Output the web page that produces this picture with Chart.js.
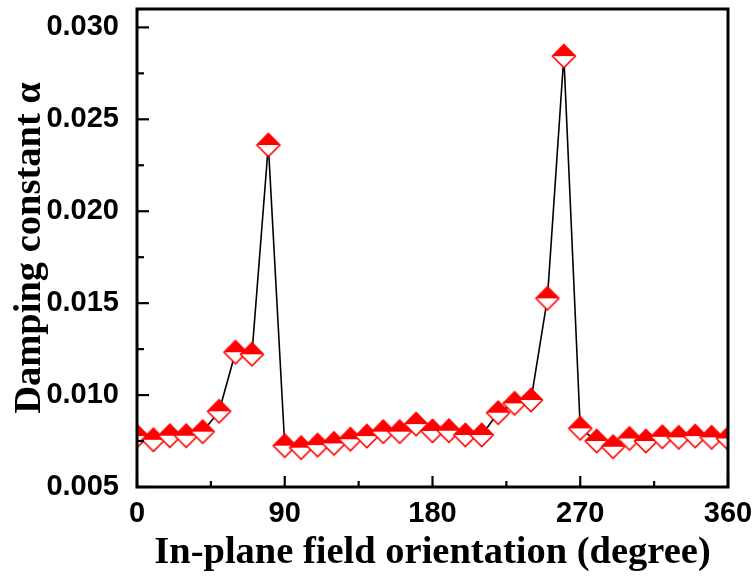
<!DOCTYPE html>
<html>
<head>
<meta charset="utf-8">
<script src="https://cdn.jsdelivr.net/npm/chart.js@4.4.1/dist/chart.umd.min.js"></script>
<style>
  html, body { margin: 0; padding: 0; background: #fff; }
  canvas { display: block; }
</style>
</head>
<body>
<canvas id="dampingChart" width="753" height="579"></canvas>
<script>
// In-plane field angle (degree) and measured damping constant
const angles = [0, 10, 20, 30, 40, 50, 60, 70, 80, 90, 100, 110, 120, 130, 140, 150, 160, 170, 180,
                190, 200, 210, 220, 230, 240, 250, 260, 270, 280, 290, 300, 310, 320, 330, 340, 350, 360];
const alpha = [0.00777, 0.00757, 0.00779, 0.00779, 0.00801, 0.00912, 0.01233, 0.01222, 0.02360, 0.00725,
               0.00714, 0.00728, 0.00737, 0.00760, 0.00777, 0.00801, 0.00801, 0.00842, 0.00805,
               0.00806, 0.00783, 0.00783, 0.00904, 0.00955, 0.00973, 0.01526, 0.02844, 0.00819,
               0.00750, 0.00719, 0.00764, 0.00750, 0.00773, 0.00770, 0.00777, 0.00770, 0.00764];

const xTicks = [0, 90, 180, 270, 360];
const xMinorTicks = [45, 135, 225, 315];
const yTicks = [0.005, 0.010, 0.015, 0.020, 0.025, 0.030];
const yMinorTicks = [0.0075, 0.0125, 0.0175, 0.0225, 0.0275];

const tickFont = { family: "'Liberation Sans', Arial, sans-serif", size: 29, weight: 'bold' };
const titleFont = { family: "'Liberation Serif', 'Times New Roman', serif", size: 38.5, weight: 'bold', lineHeight: 1.2 };

// half filled diamond marker (red top, white bottom)
function halfDiamond(r) {
    const c = document.createElement('canvas');
    const s = 28;
    c.width = c.height = s;
    const g = c.getContext('2d');
    const m = s / 2;
    g.beginPath();
    g.moveTo(m - r, m); g.lineTo(m, m - r); g.lineTo(m + r, m); g.closePath();
    g.fillStyle = '#ff0000';
    g.fill();
    g.beginPath();
    g.moveTo(m - r, m); g.lineTo(m, m + r); g.lineTo(m + r, m); g.closePath();
    g.fillStyle = '#ffffff';
    g.fill();
    g.beginPath();
    g.moveTo(m - r, m); g.lineTo(m, m - r); g.lineTo(m + r, m); g.lineTo(m, m + r); g.closePath();
    g.strokeStyle = '#ff0000';
    g.lineWidth = 1.6;
    g.stroke();
    return c;
}

// frame + inward ticks like the original plot
const frameTicks = {
    id: 'frameTicks',
    afterDatasetsDraw(chart) {
        const { ctx, chartArea: a, scales: { x, y } } = chart;
        ctx.save();
        ctx.strokeStyle = '#000';
        ctx.lineWidth = 2.2;
        const seg = (x1, y1, x2, y2) => { ctx.beginPath(); ctx.moveTo(x1, y1); ctx.lineTo(x2, y2); ctx.stroke(); };
        xTicks.forEach(v => { const p = x.getPixelForValue(v); seg(p, a.bottom, p, a.bottom - 11); });
        xMinorTicks.forEach(v => { const p = x.getPixelForValue(v); seg(p, a.bottom, p, a.bottom - 6); });
        yTicks.forEach(v => { const p = y.getPixelForValue(v); seg(a.left, p, a.left + 12, p); });
        yMinorTicks.forEach(v => { const p = y.getPixelForValue(v); seg(a.left, p, a.left + 7, p); });
        ctx.lineWidth = 3;
        ctx.strokeRect(a.left, a.top, a.right - a.left, a.bottom - a.top);
        ctx.restore();
    }
};

new Chart(document.getElementById('dampingChart'), {
    type: 'line',
    data: {
        datasets: [{
            data: angles.map((a, i) => ({ x: a, y: alpha[i] })),
            borderColor: '#000',
            borderWidth: 1.6,
            tension: 0,
            fill: false,
            clip: 0,
            pointStyle: halfDiamond(11.5),
            pointRadius: 12,
            pointHoverRadius: 12
        }]
    },
    options: {
        responsive: false,
        animation: false,
        layout: { autoPadding: false, padding: { top: 9, right: 25, left: 0, bottom: 0 } },
        plugins: { legend: { display: false }, tooltip: { enabled: false } },
        scales: {
            x: {
                type: 'linear',
                min: 0, max: 360,
                afterFit: s => { s.height = 92; s.paddingLeft = 0; s.paddingRight = 0; },
                afterBuildTicks: s => { s.ticks = xTicks.map(v => ({ value: v })); },
                grid: { display: false },
                border: { display: false },
                ticks: { color: '#000', font: tickFont, padding: 2, maxRotation: 0, autoSkip: false },
                title: { display: true, text: 'In-plane field orientation (degree)', color: '#000', font: titleFont, padding: { top: 0, bottom: 3 } }
            },
            y: {
                type: 'linear',
                min: 0.005, max: 0.031,
                afterFit: s => { s.width = 137; s.paddingTop = 0; s.paddingBottom = 0; },
                afterBuildTicks: s => { s.ticks = yTicks.map(v => ({ value: v })); },
                grid: { display: false },
                border: { display: false },
                ticks: { color: '#000', font: tickFont, padding: 10, callback: v => v.toFixed(3) },
                title: { display: true, text: 'Damping constant α', color: '#000', font: titleFont, padding: { top: 7, bottom: 0 } }
            }
        }
    },
    plugins: [frameTicks]
});
</script>
</body>
</html>
